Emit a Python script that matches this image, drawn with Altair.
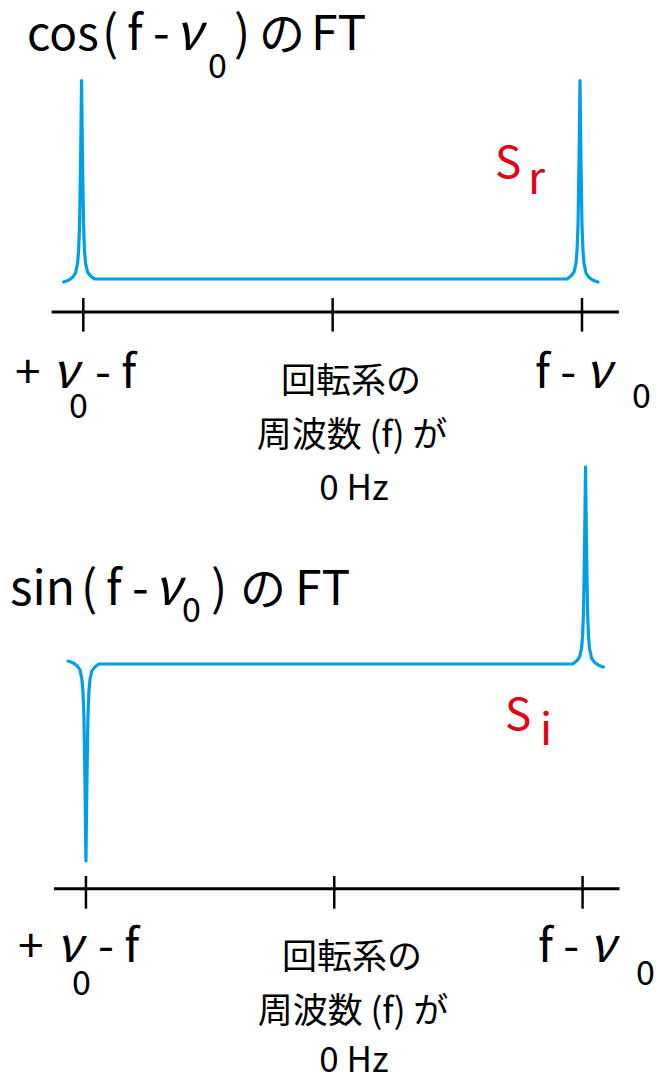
import altair as alt
import pandas as pd

# Frequency axis in units of |f - ν0|: ticks at ν0 - f, 0 Hz and f - ν0
TICKS = [-1.0, 0.0, 1.0]

# Peak centres and amplitudes of the two spectra
COS_PEAK_POS = [-1.007, 0.992]
COS_PEAK_AMP = [1.0, 1.0]
SIN_PEAK_POS = [-1.0, 1.012]
SIN_PEAK_AMP = [-1.0, 1.0]

# Line shape of one peak, from its centre outward (inner side faces 0 Hz)
SHAPE_DX = [0.0, 0.004, 0.008, 0.012, 0.016, 0.024, 0.036, 0.052, 0.072]
SHAPE_INNER = [1.0, 0.59, 0.27, 0.14, 0.08, 0.035, 0.015, 0.0, 0.0]
SHAPE_OUTER = [1.0, 0.59, 0.27, 0.14, 0.08, 0.03, 0.008, -0.006, -0.015]

LINE_COLOR = "#00a0e9"
RED = "#e60012"
FONT = "Noto Sans CJK JP"


def spectrum(positions, amps):
    """Two peaks joined by a flat baseline, traced left to right."""
    (p1, p2), (a1, a2) = positions, amps
    pts = []
    for dx, h in reversed(list(zip(SHAPE_DX, SHAPE_OUTER))):
        pts.append((p1 - dx, a1 * h))
    for dx, h in list(zip(SHAPE_DX, SHAPE_INNER))[1:]:
        pts.append((p1 + dx, a1 * h))
    for dx, h in reversed(list(zip(SHAPE_DX, SHAPE_INNER))[1:]):
        pts.append((p2 - dx, a2 * h))
    for dx, h in zip(SHAPE_DX, SHAPE_OUTER):
        pts.append((p2 + dx, a2 * h))
    return pd.DataFrame(
        {"freq": [p[0] for p in pts], "amp": [p[1] for p in pts], "i": range(len(pts))}
    )


def panel(df, xdom, ydom, axis_y, tick_y, axis_x):
    xs = alt.Scale(domain=xdom, nice=False, zero=False)
    ys = alt.Scale(domain=ydom, nice=False, zero=False)
    line = alt.Chart(df).mark_line(
        color=LINE_COLOR, strokeWidth=3.2, strokeJoin="round", strokeCap="round"
    ).encode(
        x=alt.X("freq:Q", scale=xs, axis=None),
        y=alt.Y("amp:Q", scale=ys, axis=None),
        order="i:Q",
    )
    axis_line = alt.Chart(pd.DataFrame({"a": [0]})).mark_rule(
        color="black", strokeWidth=3
    ).encode(
        x=alt.X(datum=axis_x[0], type="quantitative", scale=xs, axis=None),
        x2=alt.X2(datum=axis_x[1]),
        y=alt.Y(datum=axis_y, type="quantitative", scale=ys, axis=None),
    )
    ticks = alt.Chart(pd.DataFrame({"t": TICKS})).mark_rule(
        color="black", strokeWidth=2.5
    ).encode(
        x=alt.X("t:Q", scale=xs, axis=None),
        y=alt.Y(datum=tick_y[0], type="quantitative", scale=ys, axis=None),
        y2=alt.Y2(datum=tick_y[1]),
    )
    return alt.layer(line, axis_line, ticks)


top = panel(
    spectrum(COS_PEAK_POS, COS_PEAK_AMP),
    [-1.3341, 1.3008], [-4.030, 1.4055],
    -0.166, (-0.096, -0.265), (-1.127, 1.148),
)
bottom = panel(
    spectrum(SIN_PEAK_POS, SIN_PEAK_AMP),
    [-1.3461, 1.2998], [-2.1066, 3.3706],
    -1.1406, (-1.076, -1.242), (-1.129, 1.149),
)

# Annotation pieces: text, left edge (or centre), baseline, size, colour,
# alignment and style
LABEL_TEXT = [
    # cos panel title
    "cos", "(", "f", "-", "ν", "0", ")", "の", "FT",
    "S", "r",
    # cos panel tick labels
    "+", "ν", "0", "- f", "f -", "ν", "0",
    "回転系の", "周波数 (f) が", "0 Hz",
    # sin panel title
    "sin", "(", "f", "-", "ν", "0", ")", "の", "FT",
    "S", "i",
    # sin panel tick labels
    "+", "ν", "0", "- f", "f -", "ν", "0",
    "回転系の", "周波数 (f) が", "0 Hz",
]
LABEL_X = [
    27, 102, 127, 153, 175, 208, 234, 259, 311,
    495, 528,
    15, 52, 69, 95, 535, 585, 632,
    351, 352, 354,
    10, 81, 106, 132, 154, 182, 211, 240, 295,
    505, 540,
    18, 56, 72, 98, 538, 589, 636,
    352, 353, 354,
]
LABEL_Y = [
    50, 50, 50, 50, 50, 78, 50, 50, 50,
    178, 194,
    388, 388, 418, 388, 388, 388, 408,
    393, 447, 500,
    605, 605, 605, 605, 605, 622, 605, 605, 605,
    730, 745,
    962, 962, 995, 962, 962, 962, 985,
    969, 1023, 1072,
]
LABEL_SIZE = [
    46, 48, 48, 48, 50, 34, 48, 46, 48,
    44, 44,
    46, 48, 34, 46, 46, 48, 34,
    35, 35, 35,
    48, 48, 48, 48, 50, 34, 48, 46, 48,
    44, 44,
    46, 48, 34, 46, 46, 48, 34,
    35, 35, 35,
]
LABEL_COLOR = (
    ["black"] * 9 + [RED] * 2 + ["black"] * 10
    + ["black"] * 9 + [RED] * 2 + ["black"] * 10
)
LABEL_ALIGN = (
    ["left"] * 18 + ["center"] * 3 + ["left"] * 18 + ["center"] * 3
)
LABEL_STYLE = [
    "normal", "normal", "normal", "normal", "italic", "normal", "normal", "normal", "normal",
    "normal", "normal",
    "normal", "italic", "normal", "normal", "normal", "italic", "normal",
    "normal", "normal", "normal",
] * 2

labels = pd.DataFrame({
    "text": LABEL_TEXT, "x": LABEL_X, "y": LABEL_Y, "size": LABEL_SIZE,
    "color": LABEL_COLOR, "align": LABEL_ALIGN, "style": LABEL_STYLE,
})

text_layers = []
for align in ["left", "center"]:
    for style in ["normal", "italic"]:
        sub = labels[(labels["align"] == align) & (labels["style"] == style)]
        if sub.empty:
            continue
        text_layers.append(
            alt.Chart(sub).mark_text(
                font=FONT, align=align, baseline="alphabetic", fontStyle=style
            ).encode(
                x=alt.X("x:Q", scale=None, axis=None),
                y=alt.Y("y:Q", scale=None, axis=None),
                text="text:N",
                size=alt.Size("size:Q", scale=None, legend=None),
                color=alt.Color("color:N", scale=None, legend=None),
            )
        )

chart = alt.layer(top, bottom, *text_layers).resolve_scale(
    x="independent", y="independent"
).properties(
    width=657, height=1079, padding=0, autosize=alt.AutoSizeParams(type="none")
).configure_view(stroke=None)

chart.save("out.html", embed_options={"renderer": "svg", "actions": False})
